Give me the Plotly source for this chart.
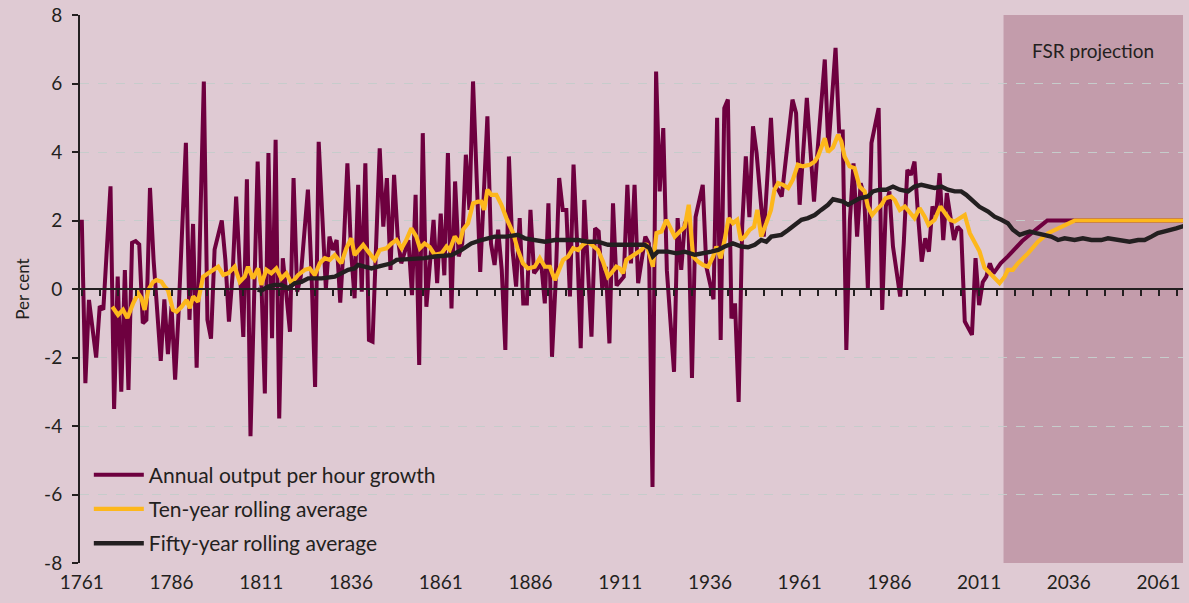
import plotly.graph_objects as go

# ---------------- data ----------------
annual_years = [1761,1762,1763,1765,1766,1767,1769,1770,1771,1772,1773,1774,1775,1776,1777,1778,1779,1780,1781,1783,
                1784,1785,1786,1787,1788,1790,1791,1792,1793,1795,1796,1797,1798,1800,1801,1802,1803,1804,1806,1807,
                1808,1809,1810,1812,1813,1814,1815,1816,1817,1819,1820,1821,1822,1824,1825,1826,1827,1829,1830,1831,
                1832,1833,1834,1835,1836,1837,1838,1839,1840,1841,1842,1844,1845,1846,1847,1848,1849,1850,1852,1853,
                1854,1855,1856,1857,1859,1860,1861,1862,1863,1864,1865,1866,1867,1868,1869,1870,1871,1872,1874,1875,
                1876,1877,1878,1879,1880,1881,1882,1883,1884,1885,1886,1887,1889,1890,1891,1892,1893,1894,1895,1896,
                1897,1898,1899,1900,1901,1902,1903,1904,1905,1906,1907,1908,1909,1910,1912,1913,1914,1915,1916,1918,
                1919,1920,1921,1922,1923,1924,1926,1927,1928,1929,1930,1931,1932,1934,1935,1936,1937,1938,1939,1940,
                1941,1942,1943,1944,1945,1946,1947,1948,1949,1951,1952,1953,1954,1955,1956,1957,1959,1960,1961,1963,
                1964,1965,1966,1968,1969,1970,1971,1972,1973,1974,1975,1976,1977,1978,1979,1980,1981,1983,1984,1985,
                1986,1987,1989,1990,1991,1992,1993,1994,1995,1996,1997,1998,1999,2000,2001,2002,2004,2005,2006,2007,
                2009,2010,2011,2012,2013,2014,2015,2016,2017,2019,2023,2027,2030,2068]
annual_growth = [2.02,-2.75,-0.32,-2.0,-0.5,-0.6,3.0,-3.5,0.36,-3.0,0.55,-2.95,1.35,1.4,1.3,-1.0,-0.9,2.95,0.85,-2.1,
                 -0.3,-1.9,-0.5,-2.65,-0.6,4.27,-0.9,1.9,-2.3,6.06,-0.9,-1.45,1.15,2.0,0.85,-0.95,0.4,2.7,-1.4,3.2,
                 -4.3,0.2,3.72,-3.05,3.97,-1.44,4.36,-3.78,0.9,-1.25,3.24,-0.08,0.36,2.9,0.46,-2.86,4.3,0.0,1.53,1.14,
                 1.43,-0.4,1.33,3.67,1.14,-0.27,3.04,-0.08,3.67,-1.49,-1.54,4.11,1.82,3.24,0.56,3.33,1.53,0.75,1.43,-0.18,
                 2.75,-2.22,4.55,-0.52,2.02,0.17,2.2,0.4,3.97,-0.57,3.14,0.95,1.33,3.92,2.31,6.06,3.09,0.5,5.04,1.33,
                 0.7,1.73,0.56,-1.78,3.87,1.14,0.07,2.07,-0.42,-0.42,2.31,0.46,0.75,-0.42,2.5,-1.98,0.17,3.24,2.31,2.31,
                 -0.22,3.63,1.33,-1.73,2.6,0.46,-1.39,1.77,1.68,0.0,0.65,-1.59,2.5,0.1,0.36,3.04,0.75,3.04,0.17,1.53,
                 1.33,-5.78,6.35,2.85,4.7,0.55,-2.42,2.07,0.56,1.92,2.1,-2.6,2.1,3.04,0.65,0.17,-0.3,5.0,-1.49,5.28,
                 5.53,-0.86,-0.42,-3.3,1.87,3.87,2.1,4.75,3.97,1.53,3.19,5.0,3.0,2.9,2.7,3.58,5.53,5.14,2.46,5.58,
                 4.06,2.55,4.06,6.7,4.06,5.4,7.04,4.6,4.6,-1.78,2.02,3.67,1.53,3.09,2.7,0.02,4.26,5.28,-0.61,2.41,
                 2.85,1.24,-0.22,1.33,3.48,3.33,3.72,2.12,0.8,1.48,1.09,2.41,2.17,3.38,1.43,2.8,1.43,1.82,1.7,-0.95,
                 -1.34,0.9,-0.47,0.2,0.36,0.75,0.46,0.6,0.75,0.95,1.4,1.75,2.0,2.0]

ten_years = [1769.5,1771.1,1772.5,1773.7,1775.3,1776.7,1777.6,1778.5,1779.5,1780.9,1781.8,1783.2,1784.1,1785.0,1786.4,
             1787.4,1788.8,1790.2,1791.1,1792.0,1793.4,1794.8,1796.2,1797.6,1799.0,1800.4,1801.8,1803.6,1805.0,1806.4,
             1807.3,1808.7,1810.1,1811.0,1812.4,1813.8,1815.2,1816.6,1818.0,1819.4,1821.3,1823.1,1824.5,1825.9,1827.3,
             1828.7,1830.1,1831.5,1833.3,1834.7,1836.1,1837.0,1838.4,1839.4,1840.8,1842.6,1844.0,1845.9,1847.3,1848.7,
             1850.1,1851.4,1852.8,1854.2,1855.2,1856.5,1857.9,1859.3,1861.2,1862.6,1863.5,1864.9,1866.3,1867.2,1868.6,
             1870.0,1871.4,1872.3,1873.1,1874.0,1875.1,1876.5,1877.9,1879.3,1881.2,1882.5,1883.9,1885.3,1887.2,1888.6,
             1890.0,1891.4,1892.8,1893.9,1895.1,1896.5,1897.9,1899.3,1900.6,1902.0,1903.4,1904.8,1906.2,1907.6,1908.5,
             1909.9,1910.9,1911.8,1912.7,1914.1,1915.5,1916.9,1918.3,1919.2,1920.1,1921.1,1922.5,1923.9,1925.3,1926.2,
             1927.6,1929.0,1930.1,1931.3,1932.7,1934.1,1935.5,1936.9,1937.8,1939.0,1940.1,1941.2,1942.4,1943.6,1944.6,
             1945.7,1947.1,1948.3,1949.2,1950.3,1951.7,1953.0,1954.0,1955.0,1956.4,1957.8,1959.1,1960.5,1961.9,1963.8,
             1965.2,1966.1,1968.0,1968.9,1970.3,1971.7,1972.6,1973.5,1974.9,1976.3,1977.7,1979.1,1980.0,1981.2,1982.4,
             1983.8,1984.9,1986.5,1987.5,1988.9,1990.3,1991.6,1993.0,1994.4,1995.8,1996.9,1998.6,2000.2,2001.4,2002.8,
             2004.2,2005.6,2007.0,2008.4,2009.8,2011.1,2012.5,2014.4,2016.7,2018.1,2019.0,2020.4,2021.8,2024.6,2027.4,
             2030.2,2033.0,2035.7,2037.6,2068.0]
ten_avg = [-0.52,-0.76,-0.61,-0.85,-0.42,-0.13,-0.27,-0.61,-0.03,0.21,0.26,0.21,0.07,-0.03,-0.61,
           -0.66,-0.52,-0.32,-0.56,-0.22,-0.37,0.36,0.46,0.55,0.65,0.41,0.46,0.65,0.21,0.36,
           0.65,0.31,0.6,0.12,0.56,0.46,0.6,0.31,0.46,0.17,0.41,0.56,0.6,0.41,0.75,
           0.9,0.85,0.99,0.75,1.19,1.48,0.99,1.19,1.29,1.09,0.85,1.14,1.19,1.33,1.43,
           1.19,1.43,1.77,1.53,1.19,1.33,1.23,1.0,1.04,1.24,1.14,1.53,1.33,1.73,1.92,
           2.5,2.55,2.55,2.31,2.9,2.75,2.75,2.46,2.07,1.63,1.14,0.75,0.6,0.65,0.9,
           0.65,0.65,0.26,0.51,0.85,0.95,1.19,1.14,1.29,1.38,1.24,1.14,0.8,0.36,0.46,
           0.65,0.6,0.46,0.85,0.95,1.04,1.14,1.33,0.95,0.65,1.63,1.68,2.02,1.73,1.53,
           1.68,1.82,2.46,0.95,0.8,0.7,0.65,0.95,1.24,0.9,1.43,2.07,1.92,2.02,1.43,
           1.53,1.73,1.82,2.31,1.53,1.92,2.31,2.9,3.09,3.04,2.95,3.19,3.63,3.58,3.63,
           3.72,3.87,4.4,4.0,4.14,4.5,4.31,3.87,3.58,3.53,2.99,2.85,2.41,2.16,2.31,
           2.46,2.65,2.7,2.6,2.31,2.41,2.26,2.07,2.36,2.12,1.87,2.02,2.41,2.21,2.02,
           1.97,2.07,2.16,1.63,1.35,1.1,0.62,0.41,0.17,0.36,0.56,0.56,0.75,1.04,1.38,
           1.63,1.77,1.92,2.0,2.0]

fifty_years = [1810.0,1811.0,1812.9,1814.8,1816.6,1818.5,1820.3,1822.2,1824.1,1827.8,1831.5,1833.3,1835.2,1837.0,1838.0,
               1839.8,1841.7,1843.5,1845.4,1847.3,1848.7,1852.8,1856.5,1859.3,1864.0,1866.8,1869.5,1872.3,1876.0,1879.3,
               1882.5,1884.4,1887.2,1890.0,1892.8,1896.5,1899.3,1902.0,1904.8,1907.6,1912.3,1915.0,1917.8,1919.2,1920.1,
               1921.5,1924.3,1926.7,1929.0,1931.8,1934.5,1936.4,1938.3,1940.1,1942.4,1944.8,1946.6,1948.5,1950.3,1951.7,
               1953.1,1955.9,1957.8,1959.6,1961.5,1963.3,1965.2,1967.0,1968.9,1970.3,1971.7,1973.1,1974.5,1975.9,1977.7,
               1980.0,1981.4,1983.3,1985.1,1987.0,1988.9,1991.2,1993.0,1994.9,1996.8,1998.6,2000.5,2002.3,2004.2,2006.0,
               2007.4,2009.3,2011.1,2013.5,2015.3,2017.2,2019.0,2020.4,2022.3,2023.7,2025.1,2026.9,2029.3,2031.1,2033.0,
               2034.8,2037.6,2039.9,2042.3,2045.0,2046.9,2049.7,2052.9,2055.3,2057.1,2059.0,2060.8,2062.7,2064.5,2065.9,
               2068.0]
fifty_avg = [-0.02,-0.05,0.07,0.12,0.12,0.02,0.17,0.21,0.31,0.31,0.36,0.46,0.56,0.6,0.7,
             0.65,0.6,0.65,0.7,0.75,0.85,0.87,0.9,0.95,0.99,1.14,1.33,1.43,1.53,1.53,
             1.58,1.48,1.43,1.38,1.43,1.43,1.43,1.38,1.38,1.29,1.29,1.29,1.29,1.19,0.95,
             1.09,1.09,1.04,1.09,1.0,1.04,1.09,1.14,1.24,1.33,1.24,1.22,1.29,1.43,1.38,
             1.53,1.58,1.72,1.87,2.02,2.07,2.16,2.31,2.46,2.62,2.6,2.55,2.46,2.55,2.65,
             2.7,2.85,2.9,2.9,2.99,2.9,2.85,2.99,3.04,2.99,2.95,2.99,2.9,2.85,2.85,
             2.75,2.56,2.4,2.26,2.11,2.02,1.92,1.73,1.58,1.63,1.68,1.63,1.58,1.53,1.43,
             1.48,1.43,1.48,1.43,1.43,1.48,1.43,1.38,1.43,1.43,1.53,1.63,1.68,1.72,1.77,
             1.84]

projection_start = 2017.8
x_range = [1760.5, 2067.8]
y_tickvals = [-8, -6, -4, -2, 0, 2, 4, 6, 8]
y_ticktext = ["-8", "-6", "-4", "-2", "0", "2", "4", "6", "8"]
x_tickvals = [1761, 1786, 1811, 1836, 1861, 1886, 1911, 1936, 1961, 1986, 2011, 2036, 2061]

# ---------------- styling ----------------
BG = "#DFCAD3"
SHADE = "#C39CAB"
PURPLE = "#6E003F"
YELLOW = "#FDB71C"
BLACK = "#231F20"
TEXT = "#231F20"
FONT = "Lato"

fig = go.Figure()

fig.add_trace(go.Scatter(x=annual_years, y=annual_growth, mode="lines",
                         name="Annual output per hour growth", legendgroup="a",
                         line=dict(color=PURPLE, width=4)))
fig.add_trace(go.Scatter(x=ten_years, y=ten_avg, mode="lines",
                         name="Ten-year rolling average", legendgroup="b",
                         line=dict(color=YELLOW, width=4.2)))
fig.add_trace(go.Scatter(x=fifty_years, y=fifty_avg, mode="lines",
                         name="Fifty-year rolling average", legendgroup="c",
                         line=dict(color=BLACK, width=4.4)))
# invisible trace to activate the zero-line axis carrying minor ticks
fig.add_trace(go.Scatter(x=[x_range[0]], y=[None], xaxis="x2", showlegend=False,
                         hoverinfo="skip", mode="lines"))

fig.add_shape(type="rect", xref="x", yref="paper", x0=projection_start, x1=x_range[1],
              y0=0, y1=1, fillcolor=SHADE, line=dict(width=0), layer="below")

fig.add_annotation(x=(projection_start + x_range[1]) / 2, xref="x", y=0.935, yref="paper",
                   text="FSR projection", showarrow=False,
                   font=dict(family=FONT, size=19, color=TEXT), yanchor="middle")

fig.update_layout(
    width=1189, height=603,
    paper_bgcolor=BG, plot_bgcolor=BG,
    margin=dict(l=80, r=6, t=15, b=40),
    font=dict(family=FONT, color=TEXT, size=19),
    showlegend=True,
    legend=dict(x=0.008, y=0.198, xanchor="left", yanchor="top",
                bgcolor="rgba(0,0,0,0)", font=dict(size=21, color=TEXT, family=FONT),
                traceorder="grouped", tracegroupgap=4, itemwidth=50),
    xaxis=dict(range=x_range, tickvals=x_tickvals, showgrid=False, zeroline=False,
               showline=False, ticks="", tickfont=dict(size=19, color=TEXT),
               ticklabelstandoff=6, automargin=False),
    xaxis2=dict(range=x_range, overlaying="x", anchor="free", position=0.5, side="bottom",
                showline=True, linecolor=BLACK, linewidth=2, ticks="outside",
                tick0=1761, dtick=5, ticklen=6, tickwidth=1.5, tickcolor=BLACK,
                showticklabels=False, showgrid=False, zeroline=False, automargin=False),
    yaxis=dict(range=[-8, 8], tickvals=y_tickvals, ticktext=y_ticktext,
               showgrid=True, gridcolor="#C6CCCB", griddash="dash", gridwidth=1.2,
               zeroline=False, showline=True, linecolor=BLACK, linewidth=2,
               ticks="outside", ticklen=6, tickwidth=1.5, tickcolor=BLACK,
               tickfont=dict(size=19, color=TEXT), ticklabelstandoff=6, automargin=False,
               title=dict(text="Per cent", font=dict(size=17, color=TEXT), standoff=10)),
)

fig.write_html("out.html",
               config={"displayModeBar": False},
               post_script="document.body.style.margin='0';"
                           "document.body.style.background='" + BG + "';")
